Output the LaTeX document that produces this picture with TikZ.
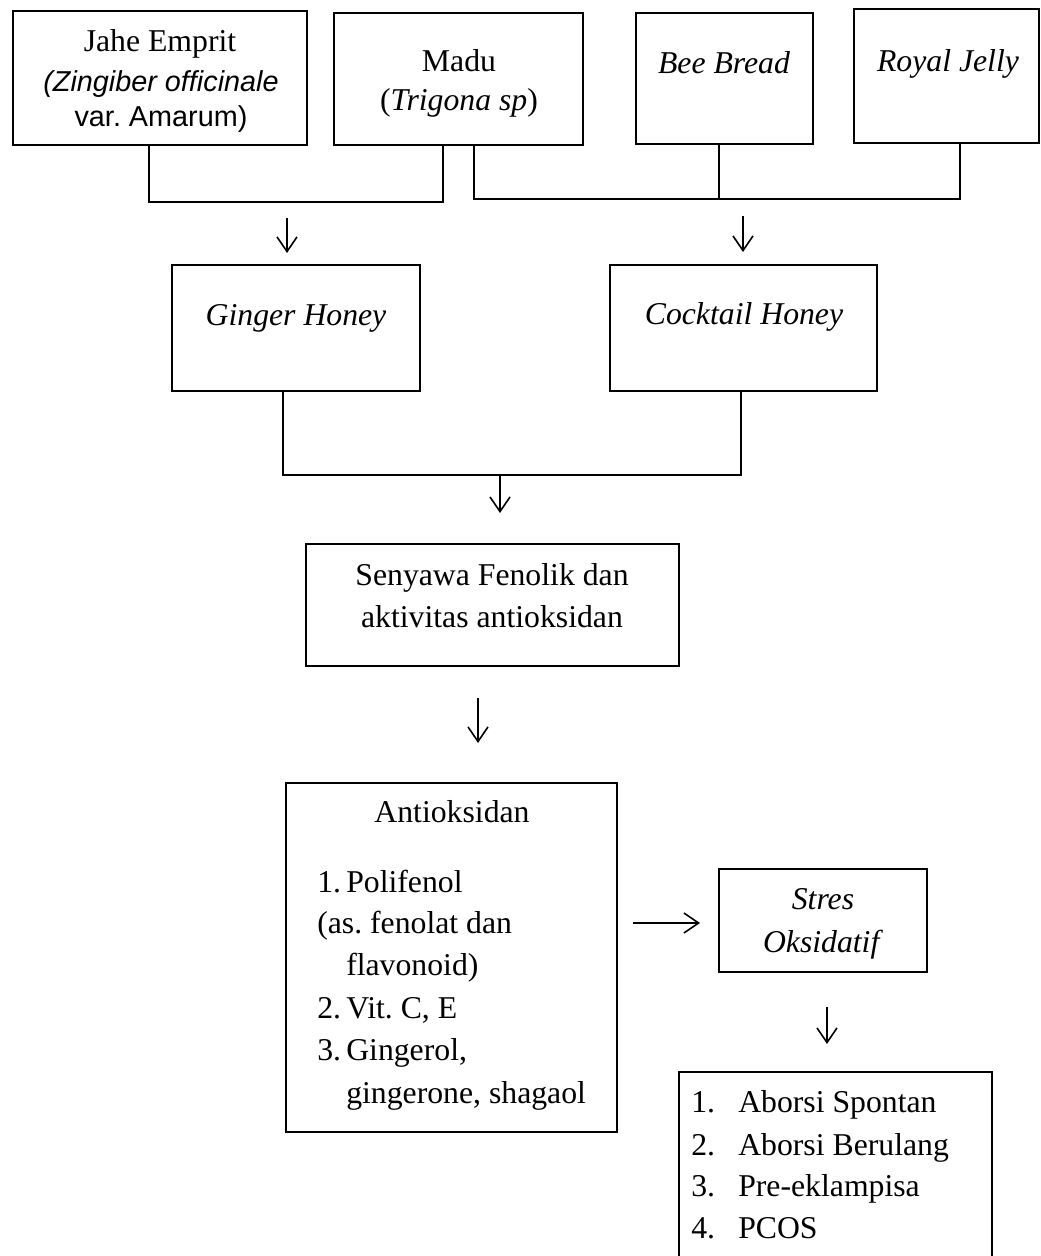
\documentclass[tikz,border=0pt]{standalone}
\usepackage{fontspec}
\setmainfont{Liberation Serif}
\newfontfamily\arialfont{Liberation Sans}
\usetikzlibrary{arrows.meta,fit}
\frenchspacing
\begin{document}
\begin{tikzpicture}[x=0.75pt,y=-0.75pt,
  box/.style={draw, line width=1.5pt, inner sep=0pt},
  txt/.style={inner sep=0pt, anchor=base, font=\fontsize{23.8}{28}\selectfont},
  ltxt/.style={txt, anchor=base west},
  stxt/.style={inner sep=0pt, anchor=base, font=\arialfont\fontsize{21.6}{25}\selectfont},
  conn/.style={line width=1pt},
  arr/.style={line width=1.2pt, -{Straight Barb[length=11pt,width=15pt,line width=1.2pt]}}
]
\useasboundingbox (0,0) rectangle (1041,1256);

% ---------- boxes ----------
\node[box, fit={(13,11) (307,145)}] (jahe) {};
\node[box, fit={(334,13) (583,145)}] (madu) {};
\node[box, fit={(636,13) (813,144)}] (bee) {};
\node[box, fit={(854,9) (1039,143)}] (royal) {};
\node[box, fit={(172,265) (420,391)}] (ginger) {};
\node[box, fit={(610,265) (877,391)}] (cocktail) {};
\node[box, fit={(306,544) (679,666)}] (senyawa) {};
\node[box, fit={(286,783) (617,1132)}] (antiok) {};
\node[box, fit={(719,869) (927,972)}] (stres) {};
\node[box, fit={(679,1072) (992,1275)}] (dampak) {};

% ---------- texts ----------
\node[txt] (tjahe) at (160,52) {Jahe Emprit};
\node[stxt] (tzing) at (161,92) {\itshape (Zingiber officinale};
\node[stxt] (tvar) at (161,127) {var. Amarum)};
\node[txt] (tmadu) at (459,72) {Madu};
\node[txt] (ttrig) at (459,110) {(\textit{Trigona sp})};
\node[txt] (tbee) at (724,74) {\textit{Bee Bread}};
\node[txt] (troyal) at (948,72) {\textit{Royal Jelly}};
\node[txt] (tginger) at (296,325) {\textit{Ginger Honey}};
\node[txt] (tcock) at (744,324) {\textit{Cocktail Honey}};
\node[txt] (tsen1) at (492,585) {Senyawa Fenolik dan};
\node[txt] (tsen2) at (492,627) {aktivitas antioksidan};
\node[txt] (tanti) at (452,822) {Antioksidan};
\node[ltxt] (n1) at (317,892) {1.};
\node[ltxt] (l1) at (346,892) {Polifenol};
\node[ltxt] (l1b) at (317,933) {(as. fenolat dan};
\node[ltxt] (l1c) at (346,975) {flavonoid)};
\node[ltxt] (n2) at (317,1018) {2.};
\node[ltxt] (l2) at (346,1018) {Vit. C, E};
\node[ltxt] (n3) at (317,1060) {3.};
\node[ltxt] (l3) at (346,1060) {Gingerol,};
\node[ltxt] (l3b) at (346,1103) {gingerone, shagaol};
\node[txt] (tstres1) at (823,909) {\textit{Stres}};
\node[txt] (tstres2) at (823,952) {\textit{Oksidatif}};
\node[ltxt] (d1n) at (691,1112) {1.};
\node[ltxt] (d1) at (738,1112) {Aborsi Spontan};
\node[ltxt] (d2n) at (691,1155) {2.};
\node[ltxt] (d2) at (738,1155) {Aborsi Berulang};
\node[ltxt] (d3n) at (691,1196) {3.};
\node[ltxt] (d3) at (738,1196) {Pre-eklampisa};
\node[ltxt] (d4n) at (691,1238) {4.};
\node[ltxt] (d4) at (738,1238) {PCOS};

% ---------- connector coordinates ----------
\coordinate (j1) at (149,202);
\coordinate (m1) at (443,202);
\coordinate (m2) at (474,199);
\coordinate (b1) at (719,199);
\coordinate (r1) at (960,199);
\coordinate (g1) at (283,475);
\coordinate (c1) at (741,475);
\coordinate (h1) at (500,475);

\coordinate (a1s) at (287,218);
\coordinate (a1e) at (287,253);
\coordinate (a2s) at (743,216);
\coordinate (a2e) at (743,252);
\coordinate (a3e) at (500,513);
\coordinate (a4s) at (478,698);
\coordinate (a4e) at (478,743);
\coordinate (a5s) at (633,923);
\coordinate (a5e) at (700,923);
\coordinate (a6s) at (827,1007);
\coordinate (a6e) at (827,1044);

% ---------- connectors ----------
\draw[conn] (jahe.south -| j1) -- (j1) -- (m1) -- (madu.south -| m1);
\draw[conn] (madu.south -| m2) -- (m2) -- (r1) -- (royal.south -| r1);
\draw[conn] (bee.south -| b1) -- (b1);
\draw[conn] (ginger.south -| g1) -- (g1) -- (c1) -- (cocktail.south -| c1);

% ---------- arrows ----------
\draw[arr] (a1s) -- (a1e);
\draw[arr] (a2s) -- (a2e);
\draw[arr] (h1) -- (a3e);
\draw[arr] (a4s) -- (a4e);
\draw[arr] (a5s) -- (a5e);
\draw[arr] (a6s) -- (a6e);
\end{tikzpicture}
\end{document}
